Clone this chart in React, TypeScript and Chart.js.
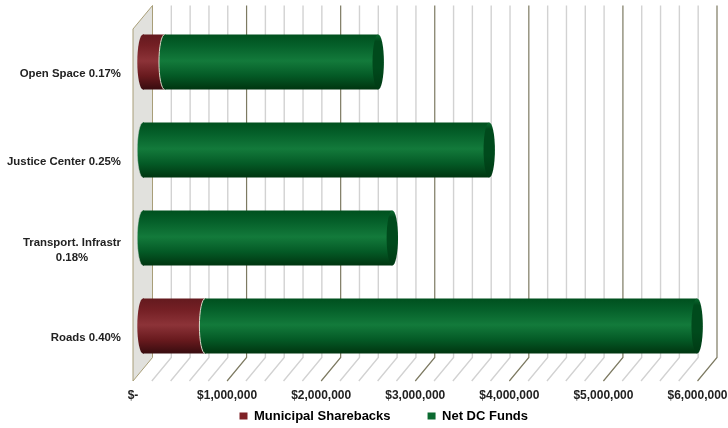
import React, { useEffect, useRef } from "react";
import { Chart, registerables } from "chart.js";

Chart.register(...registerables);

const categories = ["Open Space 0.17%", "Justice Center 0.25%", "Transport. Infrastr 0.18%", "Roads 0.40%"];
const categoryLines = [["Open Space 0.17%"], ["Justice Center 0.25%"], ["Transport. Infrastr", "0.18%"], ["Roads 0.40%"]];
const municipalSharebacks = [230000, 0, 0, 660000];
const netDcFunds = [2270000, 3680000, 2650000, 5230000];
const tickLabels = ["$-", "$1,000,000", "$2,000,000", "$3,000,000", "$4,000,000", "$5,000,000", "$6,000,000"];

const DEPTH_X = 19.5;
const DEPTH_Y = 23.5;
const BAR_SHIFT_X = 10;
const BAR_SHIFT_Y = -11;
const CAP = 5.7;
const TEXT = "#222222";
const FONT = '"Liberation Sans", Arial, sans-serif';
const LEGEND_GAP = 37;
const LEGEND_HEIGHT = 24;

const RED_STOPS: [number, string][] = [[0, "#641a1e"], [0.2, "#741f24"], [0.48, "#8c3338"], [0.75, "#691a1e"], [1, "#380c0f"]];
const GREEN_STOPS: [number, string][] = [[0, "#00501e"], [0.2, "#05602a"], [0.48, "#137a3b"], [0.75, "#045a26"], [1, "#003510"]];

function barFill(c: any, stops: [number, string][]) {
  const y = c.chart.scales.y;
  if (!y || c.dataIndex === undefined) return stops[2][1];
  const step = y.getPixelForValue(1) - y.getPixelForValue(0);
  const mid = y.getPixelForValue(c.dataIndex);
  const half = (step * 0.625) / 2;
  const g = c.chart.ctx.createLinearGradient(0, mid - half, 0, mid + half);
  stops.forEach(([o, col]) => g.addColorStop(o, col));
  return g;
}

const depthPlugin = {
  id: "depth",
  beforeLayout(chart: any) {
    // The legend keeps a wide gap between its items but only a low row at the bottom.
    const lg = chart.legend;
    if (!lg || lg.__wrapped) return;
    lg.__wrapped = true;
    const fit = lg.fit;
    const inner = lg._draw;
    lg.fit = function () {
      fit.call(this);
      this.height = LEGEND_HEIGHT;
    };
    lg._draw = function () {
      const ctx = this.ctx;
      ctx.save();
      ctx.translate(0, (LEGEND_HEIGHT - 13) / 2 - LEGEND_GAP);
      inner.call(this);
      ctx.restore();
    };
  },
  beforeDatasetsDraw(chart: any) {
    const { ctx, scales, chartArea } = chart;
    const x = scales.x;
    const { top, bottom } = chartArea;
    const x0 = x.getPixelForValue(0);
    ctx.save();
    ctx.beginPath();
    ctx.moveTo(x0, top);
    ctx.lineTo(x0 + DEPTH_X, top - DEPTH_Y);
    ctx.lineTo(x0 + DEPTH_X, bottom - DEPTH_Y);
    ctx.lineTo(x0, bottom);
    ctx.closePath();
    ctx.fillStyle = "#e1e1dd";
    ctx.fill();
    ctx.strokeStyle = "#a89e78";
    ctx.lineWidth = 1;
    ctx.stroke();
    x.ticks.forEach((t: any) => {
      const px = x.getPixelForValue(t.value);
      const major = t.value % 1000000 === 0;
      if (t.value === 0) return;
      ctx.strokeStyle = major ? "#7d7a62" : "#d2d2d2";
      ctx.lineWidth = major ? 1.2 : 1.4;
      ctx.beginPath();
      ctx.moveTo(px, bottom);
      ctx.lineTo(px + DEPTH_X, bottom - DEPTH_Y);
      ctx.lineTo(px + DEPTH_X, top - DEPTH_Y);
      ctx.stroke();
    });
    ctx.restore();
    ctx.save();
    ctx.translate(BAR_SHIFT_X, BAR_SHIFT_Y);
  },
  afterDatasetsDraw(chart: any) {
    const { ctx } = chart;
    const half = (cx: number, cy: number, h: number) => {
      ctx.beginPath();
      ctx.ellipse(cx, cy, CAP, h, 0, Math.PI / 2, (3 * Math.PI) / 2);
      ctx.lineTo(cx + 1, cy - h);
      ctx.lineTo(cx + 1, cy + h);
      ctx.closePath();
    };
    const count = chart.data.labels.length;
    for (let i = 0; i < count; i++) {
      const red = chart.getDatasetMeta(0).data[i];
      const green = chart.getDatasetMeta(1).data[i];
      const h = green.height / 2;
      if (chart.data.datasets[0].data[i] > 0) {
        half(red.base, red.y, h);
        ctx.fillStyle = red.options.backgroundColor;
        ctx.fill();
      }
      half(green.base, green.y, h);
      ctx.fillStyle = green.options.backgroundColor;
      ctx.fill();
      ctx.beginPath();
      ctx.ellipse(green.base, green.y, CAP, h, 0, Math.PI / 2, (3 * Math.PI) / 2);
      ctx.strokeStyle = chart.data.datasets[0].data[i] > 0 ? "#d8d8c8" : "rgba(200,210,200,0.45)";
      ctx.lineWidth = 1;
      ctx.stroke();
      const end = green.x;
      const g = ctx.createLinearGradient(0, green.y - h, 0, green.y + h);
      g.addColorStop(0, "#0c6a30");
      g.addColorStop(0.12, "#004a1c");
      g.addColorStop(0.6, "#004a1c");
      g.addColorStop(1, "#003a14");
      ctx.beginPath();
      ctx.ellipse(end, green.y, CAP, h, 0, 0, Math.PI * 2);
      ctx.fillStyle = g;
      ctx.fill();
    }
    ctx.restore();

    const y = chart.scales.y;
    ctx.save();
    ctx.font = `bold 11.4px ${FONT}`;
    ctx.fillStyle = TEXT;
    ctx.textBaseline = "middle";
    const right = 121;
    categoryLines.forEach((lines, i) => {
      const py = y.getPixelForValue(i) + 1;
      const widest = Math.max(...lines.map((l) => ctx.measureText(l).width));
      lines.forEach((line, k) => {
        const ly = py + (k - (lines.length - 1) / 2) * 15;
        if (lines.length > 1) {
          ctx.textAlign = "center";
          ctx.fillText(line, right - widest / 2, ly);
        } else {
          ctx.textAlign = "right";
          ctx.fillText(line, right, ly);
        }
      });
    });
    ctx.restore();
  },
};

export default function App() {
  const ref = useRef<HTMLCanvasElement>(null);
  useEffect(() => {
    document.body.style.margin = "0";
    const chart = new Chart(ref.current as HTMLCanvasElement, {
      type: "bar",
      data: {
        labels: categories,
        datasets: [
          {
            label: "Municipal Sharebacks",
            data: municipalSharebacks,
            backgroundColor: (c: any) => barFill(c, RED_STOPS),
            borderWidth: 0,
            clip: false,
          },
          {
            label: "Net DC Funds",
            data: netDcFunds,
            backgroundColor: (c: any) => barFill(c, GREEN_STOPS),
            borderWidth: 0,
            clip: false,
          },
        ],
      } as any,
      options: {
        indexAxis: "y",
        responsive: false,
        animation: false,
        devicePixelRatio: 1,
        layout: { padding: { left: 70, right: 30.5, top: 29, bottom: 0 } },
        datasets: { bar: { barPercentage: 0.625, categoryPercentage: 1 } },
        scales: {
          x: {
            stacked: true,
            min: 0,
            max: 6000000,
            grid: { display: false, drawTicks: false },
            border: { display: false },
            afterFit: (s: any) => {
              s.height = 23;
              s.paddingLeft = 0;
              s.paddingRight = 0;
            },
            ticks: {
              stepSize: 200000,
              autoSkip: false,
              maxRotation: 0,
              padding: 7,
              color: TEXT,
              font: { family: FONT, weight: "bold", size: 12 },
              callback: (v: any) => (Number(v) % 1000000 === 0 ? tickLabels[Number(v) / 1000000] : ""),
            },
          },
          y: {
            stacked: true,
            grid: { display: false },
            border: { display: false },
            ticks: { display: false },
            afterFit: (s: any) => {
              s.width = 63;
            },
          },
        },
        plugins: {
          tooltip: { enabled: false },
          legend: {
            position: "bottom",
            labels: {
              boxWidth: 8,
              boxHeight: 7,
              padding: LEGEND_GAP,
              color: TEXT,
              font: { family: FONT, weight: "bold", size: 13 },
              generateLabels: () => [
                { text: "Municipal Sharebacks", fillStyle: "#7e2126", strokeStyle: "#7e2126", lineWidth: 0, datasetIndex: 0 },
                { text: "Net DC Funds", fillStyle: "#0b6a30", strokeStyle: "#0b6a30", lineWidth: 0, datasetIndex: 1 },
              ],
            },
          },
        },
      },
      plugins: [depthPlugin],
    } as any);
    return () => chart.destroy();
  }, []);
  return (
    <div style={{ position: "fixed", left: 0, top: 0, width: 728, height: 428, background: "#fff" }}>
      <canvas ref={ref} width={728} height={428} style={{ display: "block" }} />
    </div>
  );
}
